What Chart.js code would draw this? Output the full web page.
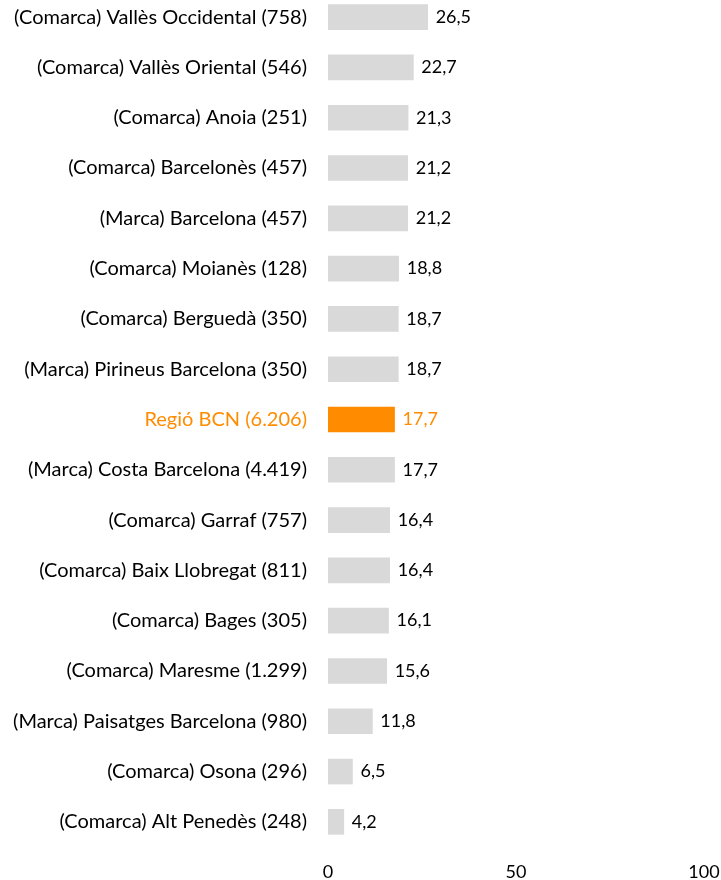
<!DOCTYPE html>
<html>
<head>
<meta charset="utf-8">
<script src="https://cdn.jsdelivr.net/npm/chart.js@4/dist/chart.umd.min.js"></script>
<style>
  html, body { margin: 0; padding: 0; background: #ffffff; overflow: hidden; }
  #wrap { position: absolute; left: 0; top: -8px; width: 721px; height: 889px; }
</style>
</head>
<body>
<div id="wrap"><canvas id="c" width="721" height="889"></canvas></div>
<script>
const categories = [
  "(Comarca) Vallès Occidental (758)",
  "(Comarca) Vallès Oriental (546)",
  "(Comarca) Anoia (251)",
  "(Comarca) Barcelonès (457)",
  "(Marca) Barcelona (457)",
  "(Comarca) Moianès (128)",
  "(Comarca) Berguedà (350)",
  "(Marca) Pirineus Barcelona (350)",
  "Regió BCN (6.206)",
  "(Marca) Costa Barcelona (4.419)",
  "(Comarca) Garraf (757)",
  "(Comarca) Baix Llobregat (811)",
  "(Comarca) Bages (305)",
  "(Comarca) Maresme (1.299)",
  "(Marca) Paisatges Barcelona (980)",
  "(Comarca) Osona (296)",
  "(Comarca) Alt Penedès (248)"
];
const values = [26.5, 22.7, 21.3, 21.2, 21.2, 18.8, 18.7, 18.7, 17.7, 17.7, 16.4, 16.4, 16.1, 15.6, 11.8, 6.5, 4.2];
const highlightLabel = "Regió BCN (6.206)";
const xTicks = [0, 50, 100];

const GREY = "#d9d9d9";
const ORANGE = "#ff8c00";
const TEXT = "#000000";
const FAMILY = "Lato, 'Open Sans', sans-serif";
const CAT_FONT = { family: FAMILY, size: 20 };
const NUM_FONT = { family: FAMILY, size: 18 };

const isHi = i => categories[i] === highlightLabel;

const valueLabels = {
  id: "valueLabels",
  afterDatasetsDraw(chart) {
    const ctx = chart.ctx;
    const meta = chart.getDatasetMeta(0);
    ctx.save();
    ctx.font = NUM_FONT.size + "px " + NUM_FONT.family;
    ctx.textBaseline = "middle";
    ctx.textAlign = "left";
    meta.data.forEach((bar, i) => {
      ctx.fillStyle = isHi(i) ? ORANGE : TEXT;
      ctx.fillText(values[i].toFixed(1).replace(".", ","), bar.x + 8, bar.y);
    });
    ctx.restore();
  }
};

new Chart(document.getElementById("c"), {
  type: "bar",
  data: {
    labels: categories,
    datasets: [{
      data: values,
      backgroundColor: categories.map((c, i) => isHi(i) ? ORANGE : GREY),
      barThickness: 25,
      borderWidth: 0
    }]
  },
  options: {
    indexAxis: "y",
    responsive: false,
    animation: false,
    layout: { padding: { left: 0, right: 17, top: 0, bottom: 0 } },
    plugins: { legend: { display: false }, tooltip: { enabled: false } },
    scales: {
      x: {
        min: 0, max: 100,
        afterBuildTicks: s => { s.ticks = xTicks.map(v => ({ value: v })); },
        afterFit: s => { s.height = 34; s.paddingLeft = 0; s.paddingRight = 0; },
        grid: { display: false, drawTicks: false },
        border: { display: false },
        ticks: { padding: 14, color: TEXT, font: NUM_FONT, maxRotation: 0 }
      },
      y: {
        afterFit: s => { s.width = 328; s.paddingTop = 0; s.paddingBottom = 0; },
        grid: { display: false, drawTicks: false },
        border: { display: false },
        ticks: {
          padding: 21,
          autoSkip: false,
          font: CAT_FONT,
          color: ctx => isHi(ctx.index) ? ORANGE : TEXT
        }
      }
    }
  },
  plugins: [valueLabels]
});
</script>
</body>
</html>
